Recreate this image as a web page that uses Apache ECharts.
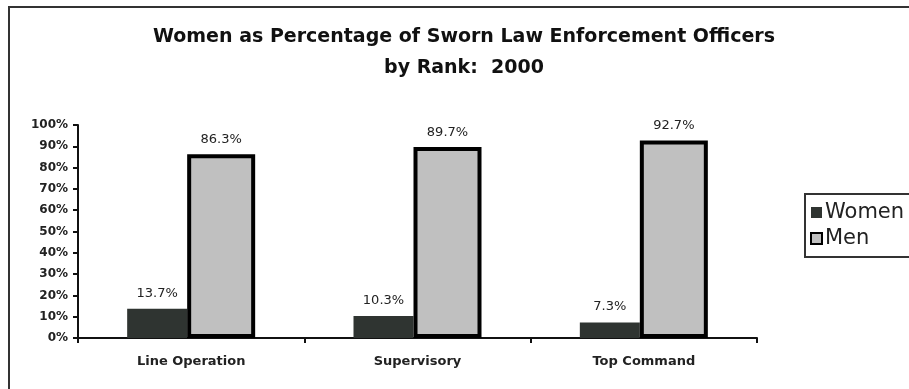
<!DOCTYPE html>
<html>
<head>
<meta charset="utf-8">
<script src="https://cdn.jsdelivr.net/npm/echarts@6/dist/echarts.min.js"></script>
<style>
  html, body { margin: 0; padding: 0; background: #fff; }
  #main { width: 909px; height: 389px; }
</style>
</head>
<body>
<div id="main"></div>
<script>
// data
const ranks = ['Line Operation', 'Supervisory', 'Top Command']
const women = [13.7, 10.3, 7.3]
const men = [86.3, 89.7, 92.7]

const chartDom = document.getElementById('main')
const myChart = echarts.init(chartDom)
const font = 'DejaVu Sans'

var option
option = {
  backgroundColor: '#fff',
  animation: false,
  title: {
    text: 'Women as Percentage of Sworn Law Enforcement Officers\nby Rank:  2000',
    left: 459,
    textAlign: 'center',
    top: 17,
    textStyle: {
      fontFamily: font,
      fontSize: 19,
      fontWeight: 'bold',
      color: '#111',
      lineHeight: 31
    }
  },
  graphic: [
    {
      type: 'rect',
      shape: { x: 9, y: 7, width: 1000, height: 500 },
      style: { fill: 'none', stroke: '#333', lineWidth: 2 },
      silent: true
    }
  ],
  legend: {
    orient: 'vertical',
    left: 805,
    top: 194,
    padding: [8, 10, 8, 5],
    itemGap: 5,
    itemWidth: 11,
    itemHeight: 11,
    borderColor: '#333',
    borderWidth: 2,
    icon: 'rect',
    textStyle: { fontFamily: font, fontSize: 21, color: '#222', padding: [0, 0, 0, -2] },
    data: ['Women', 'Men']
  },
  grid: {
    left: 78,
    right: 152,
    top: 125,
    bottom: 51
  },
  xAxis: {
    type: 'category',
    data: ranks,
    axisLine: { lineStyle: { color: '#111', width: 2 } },
    axisTick: { show: true, length: 5, lineStyle: { color: '#111', width: 2 } },
    axisLabel: {
      margin: 17,
      fontFamily: font,
      fontSize: 13,
      fontWeight: 'bold',
      color: '#222'
    }
  },
  yAxis: {
    type: 'value',
    min: 0,
    max: 100,
    interval: 10,
    splitLine: { show: false },
    axisLine: { show: true, lineStyle: { color: '#111', width: 2 } },
    axisTick: { show: true, length: 5, lineStyle: { color: '#111', width: 2 } },
    axisLabel: {
      margin: 10,
      formatter: '{value}%',
      fontFamily: font,
      fontSize: 12,
      fontWeight: 'bold',
      color: '#222'
    }
  },
  series: [
    {
      name: 'Women',
      type: 'bar',
      barWidth: 60,
      barGap: '0%',
      itemStyle: { color: '#2f3431' },
      label: {
        show: true,
        position: 'top',
        distance: 9,
        formatter: '{c}%',
        fontFamily: font,
        fontSize: 13,
        color: '#222'
      },
      data: women
    },
    {
      name: 'Men',
      type: 'bar',
      barWidth: 68,
      itemStyle: { color: '#c0c0c0', borderColor: '#000', borderWidth: 4 },
      label: {
        show: true,
        position: 'top',
        distance: 8,
        formatter: '{c}%',
        fontFamily: font,
        fontSize: 13,
        color: '#222'
      },
      data: men
    }
  ]
}
option && myChart.setOption(option)
</script>
</body>
</html>
